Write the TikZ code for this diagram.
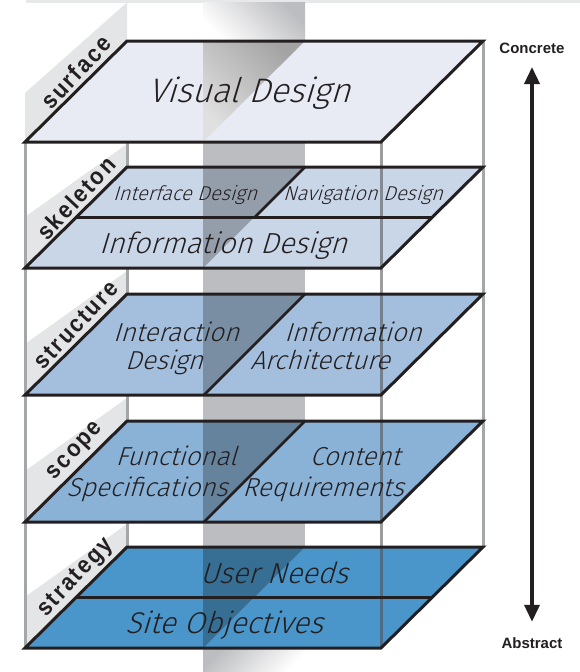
\documentclass[tikz,border=0pt]{standalone}
\usepackage{fontspec}
\usetikzlibrary{arrows.meta}
\newfontfamily\planefont{Fira Sans Light}[FakeSlant=0.3]
\newfontfamily\tabfont{Liberation Sans}[FakeStretch=0.9, LetterSpace=9]
\newfontfamily\axisfont{Liberation Sans}
\definecolor{ink}{HTML}{231F20}
\definecolor{bargray}{HTML}{BCBDC0}
\definecolor{framegray}{HTML}{A4A7AA}
\definecolor{tabgray}{HTML}{E3E5E6}
\definecolor{stripgray}{HTML}{E6E8E9}
\definecolor{surfacec}{HTML}{E8EBF4}
\definecolor{skeletonc}{HTML}{C9D6E8}
\definecolor{structurec}{HTML}{A4BFDD}
\definecolor{scopec}{HTML}{8AB1D6}
\definecolor{strategyc}{HTML}{4A95C9}
\tikzset{
  planeedge/.style={line width=3pt, draw=ink, line join=miter},
  divider/.style={line width=2.6pt, draw=ink},
  frameline/.style={line width=3pt, draw=framegray},
  frontline/.style={line width=3pt, draw=black!70, draw opacity=0.55},
  shadowtri/.style={fill=black, fill opacity=0.26},
  tabshape/.style={fill=tabgray},
  tablabel/.style={font=\tabfont\bfseries\fontsize{24}{24}\selectfont, text=ink, rotate=47, inner sep=0pt},
  planetext/.style={font=\planefont\fontsize{#1}{#1}\selectfont, text=ink, anchor=base, inner sep=0pt},
  axislabel/.style={font=\axisfont\bfseries\fontsize{15}{15}\selectfont, text=ink, inner sep=0pt},
  axisarrow/.style={line width=3.5pt, draw=ink, {Triangle[length=17pt,width=15pt]}-{Triangle[length=17pt,width=15pt]}}
}
\begin{document}
\begin{tikzpicture}[x=1pt,y=-1pt]
\useasboundingbox (0,0) rectangle (580,672);
\fill[white] (0,0) rectangle (580,672);
% top strip
\fill[stripgray] (26,0) rectangle (580,2.5);
% vertical bar
\shade[top color=bargray, bottom color=white, shading angle=-45] (203,2.5) rectangle (305,41);
\fill[bargray] (203,41) rectangle (305,648);
\shade[top color=bargray, bottom color=white, shading angle=45] (203,648) rectangle (305,672);
% tabs
\fill[tabshape] (25,142) -- (127,41) -- (127,2.5) -- (25,93) -- cycle;
\foreach \t in {167,294,421,547}{
  \fill[tabshape] (25,\t+101) -- (127,\t) -- (127,\t-23) -- (25,\t+50) -- cycle;
}
% frame lines (behind planes)
\draw[frameline] (25,142) -- (25,648);
\draw[frameline] (127,41) -- (127,547);
\draw[frameline] (483,41) -- (483,547);
% plane fills
\fill[surfacec] (25,142) -- (381,142) -- (483,41) -- (127,41) -- cycle;
\fill[skeletonc] (25,268) -- (381,268) -- (483,167) -- (127,167) -- cycle;
\fill[structurec] (25,395) -- (381,395) -- (483,294) -- (127,294) -- cycle;
\fill[scopec] (25,522) -- (381,522) -- (483,421) -- (127,421) -- cycle;
\fill[strategyc] (25,648) -- (381,648) -- (483,547) -- (127,547) -- cycle;
% bar seen through planes
\shade[top color=black!36, bottom color=black!12, shading angle=-45] (203,41) -- (305,41) -- (203,142) -- cycle;
\fill[shadowtri] (203,167) -- (305,167) -- (203,268) -- cycle;
\fill[shadowtri] (203,294) -- (305,294) -- (203,395) -- cycle;
\fill[shadowtri] (203,421) -- (305,421) -- (203,522) -- cycle;
\fill[shadowtri] (203,547) -- (305,547) -- (203,648) -- cycle;
% front right frame line
\draw[frontline] (381,142) -- (381,648);
% plane outlines and dividers
\draw[planeedge] (25,142) -- (381,142) -- (483,41) -- (127,41) -- cycle;
\draw[planeedge] (25,268) -- (381,268) -- (483,167) -- (127,167) -- cycle;
\draw[divider] (76,217.5) -- (432,217.5);
\draw[divider] (305,167) -- (254.5,217.5);
\draw[planeedge] (25,395) -- (381,395) -- (483,294) -- (127,294) -- cycle;
\draw[divider] (305,294) -- (204,395);
\draw[planeedge] (25,522) -- (381,522) -- (483,421) -- (127,421) -- cycle;
\draw[divider] (305,421) -- (204,522);
\draw[planeedge] (25,648) -- (381,648) -- (483,547) -- (127,547) -- cycle;
\draw[divider] (76,597.5) -- (432,597.5);
% tab labels
\node[tablabel] (surface) at (76,72) {surface};
\node[tablabel] (skeleton) at (76,198) {skeleton};
\node[tablabel] (structure) at (76,325) {structure};
\node[tablabel] (scope) at (76,452) {scope};
\node[tablabel] (strategy) at (76,578) {strategy};
% plane texts
\node[planetext=34] (visual) at (249,102) {Visual Design};
\node[planetext=20] (interface) at (185,200) {Interface Design};
\node[planetext=20] (navigation) at (363,200) {Navigation Design};
\node[planetext=29] (infodesign) at (223,253) {Information Design};
\node[planetext=26] (interaction) at (176,341) {Interaction};
\node[planetext=26] (interactiondesign) at (164,369) {Design};
\node[planetext=26] (infoarch) at (353,341) {Information};
\node[planetext=26] (architecture) at (320,369) {Architecture};
\node[planetext=26] (functional) at (176,465) {Functional};
\node[planetext=26] (specs) at (147,496) {Specifications};
\node[planetext=26] (content) at (355,465) {Content};
\node[planetext=26] (requirements) at (323,496) {Requirements};
\node[planetext=29] (userneeds) at (274,583) {User Needs};
\node[planetext=30] (siteobj) at (224,633) {Site Objectives};
% axis
\node[axislabel] (concrete) at (532,48) {Concrete};
\node[axislabel] (abstract) at (532,643) {Abstract};
\draw[axisarrow, shorten <=13.5pt, shorten >=15.5pt] (concrete.south) -- (abstract.north);
\end{tikzpicture}
\end{document}
